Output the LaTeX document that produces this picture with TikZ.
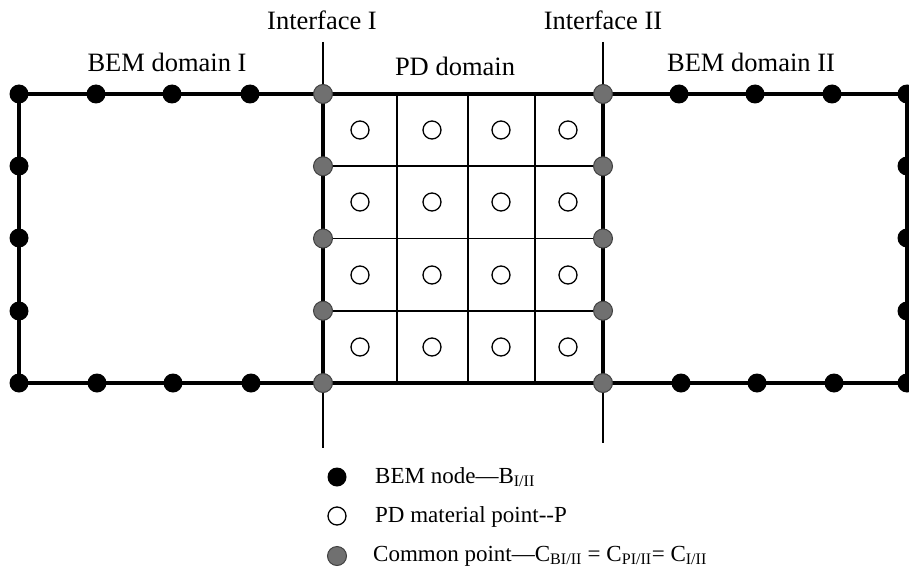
\documentclass[tikz,border=0pt]{standalone}
\usepackage{fontspec}
\setmainfont{Liberation Serif}
\usepackage{xcolor}
\usepackage{tikz}
\usetikzlibrary{positioning}
\usetikzlibrary{backgrounds}
\definecolor{compgray}{HTML}{707070}
\tikzset{
  bemnode/.style={circle,fill=black,minimum size=19pt,inner sep=0pt},
  pdpoint/.style={circle,draw=black,fill=white,line width=1.3pt,minimum size=18pt,inner sep=0pt},
  compoint/.style={circle,draw=black!75,fill=compgray,line width=1pt,minimum size=19pt,inner sep=0pt},
  boundline/.style={line width=4pt},
  gridline/.style={line width=1.8pt},
  ifaceline/.style={line width=2.2pt},
  toptext/.style={font=\fontsize{26.5}{30}\selectfont,inner sep=0pt,anchor=base},
  keytext/.style={font=\fontsize{23}{27}\selectfont,inner sep=0pt,anchor=base west}
}
\begin{document}
\begin{tikzpicture}[x=1pt,y=-1pt]
\useasboundingbox (0,0) rectangle (909,567);
% interface (common) points
\foreach \j/\y in {0/94,1/166.25,2/238.5,3/310.75,4/383}{
  \node[compoint] (IA-\j) at (323,\y) {};
  \node[compoint] (IB-\j) at (603,\y) {};
}
% BEM nodes of domain I
\node[bemnode] (LT) at (19,94) {};
\node[bemnode] (LB) at (19,383) {};
\foreach \x [count=\k] in {96,172,250}{
  \node[bemnode] (LTop-\k) at (\x,94) {};
  \node[bemnode] (LBot-\k) at (\x+1,383) {};
}
\foreach \y [count=\k] in {166,238,311}
  \node[bemnode] (LSide-\k) at (19,\y) {};
% BEM nodes of domain II
\node[bemnode] (RT) at (907,94) {};
\node[bemnode] (RB) at (907,383) {};
\foreach \x [count=\k] in {679,755,832}{
  \node[bemnode] (RTop-\k) at (\x,94) {};
  \node[bemnode] (RBot-\k) at (\x+2,383) {};
}
\foreach \y [count=\k] in {166,238,311}
  \node[bemnode] (RSide-\k) at (907,\y) {};
% PD material points
\foreach \x [count=\c] in {360,432,501,568}
  \foreach \y [count=\r] in {130,202,275,347}
    \node[pdpoint] (P-\r-\c) at (\x,\y) {};
% free ends of the lines
\coordinate (IAtop) at (323,42);
\coordinate (IAbot) at (323,448);
\coordinate (IBtop) at (603,42);
\coordinate (IBbot) at (603,443);
\foreach \x [count=\k] in {397,468,535}{
  \coordinate (Ct-\k) at (\x,94);
  \coordinate (Cb-\k) at (\x,383);
}
\begin{scope}[on background layer]
  \draw[ifaceline] (IAtop) -- (IA-0.center) (IA-4.center) -- (IAbot);
  \draw[ifaceline] (IBtop) -- (IB-0.center) (IB-4.center) -- (IBbot);
  \foreach \j in {1,2,3}
    \draw[gridline] (IA-\j.center) -- (IB-\j.center);
  \foreach \k in {1,2,3}
    \draw[gridline] (Ct-\k) -- (Cb-\k);
  \draw[boundline] (LT.center) -- (IA-0.center) -- (IB-0.center) -- (RT.center)
    -- (RB.center) -- (IB-4.center) -- (IA-4.center) -- (LB.center) -- cycle;
  \draw[boundline] (IA-0.center) -- (IA-4.center);
  \draw[boundline] (IB-0.center) -- (IB-4.center);
\end{scope}
% labels
\node[toptext] (labIA) at (322,30) {Interface I};
\node[toptext] (labIB) at (603,30) {Interface II};
\node[toptext] (labBEMI) at (167,72) {BEM domain I};
\node[toptext] (labPD) at (455,76) {PD domain};
\node[toptext] (labBEMII) at (751,72) {BEM domain II};
% legend
\node[bemnode] (keyB) at (337,477) {};
\node[pdpoint] (keyP) at (337,516) {};
\node[compoint] (keyC) at (337,556) {};
\node[keytext] (txtB) at (375,483) {BEM node—B\textsubscript{I/II}};
\node[keytext] (txtP) at (375,522) {PD material point-{}-P};
\node[keytext] (txtC) at (373,561) {Common point—C\textsubscript{BI/II} = C\textsubscript{PI/II}= C\textsubscript{I/II}};
\end{tikzpicture}
\end{document}
